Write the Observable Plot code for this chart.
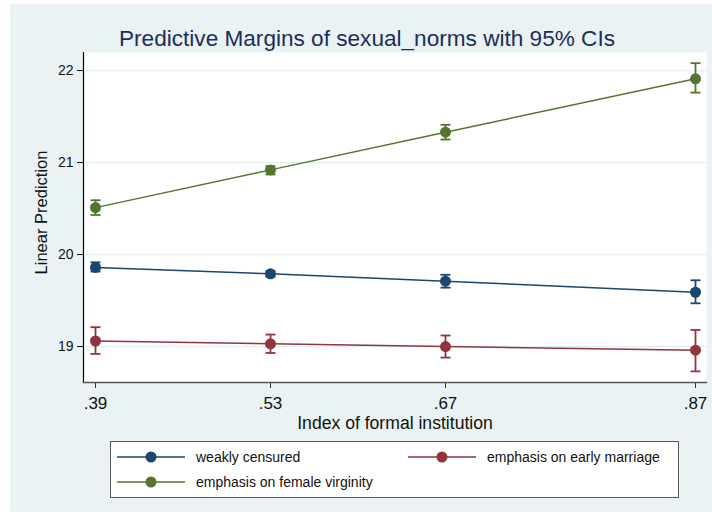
<!DOCTYPE html>
<html>
<head>
<meta charset="utf-8">
<script src="https://cdn.jsdelivr.net/npm/d3@7"></script>
<script src="https://cdn.jsdelivr.net/npm/@observablehq/plot@0.6"></script>
<style>
  html, body { margin: 0; padding: 0; background: #ffffff; }
  #wrap { position: relative; width: 712px; height: 520px; font-family: "Liberation Sans", Arial, sans-serif; }
  #bg { position: absolute; left: 10px; top: 4px; width: 702px; height: 508px; background: #eaf2f3; }
  #chart { position: absolute; left: 0; top: 0; }
  #legend { position: absolute; left: 110px; top: 441px; width: 567px; height: 55px; background: #fff; border: 1px solid #5a5a5a; }
  .item { position: absolute; height: 14px; display: flex; align-items: center; font-size: 14px; color: #111; white-space: nowrap; }
  .item svg { margin-right: 11px; }
</style>
</head>
<body>
<div id="wrap">
  <div id="bg"></div>
  <div id="chart"></div>
  <div id="legend"></div>
</div>
<script>
// ---- data ----
const xValues = [0.39, 0.53, 0.67, 0.87];
const xTickLabels = [".39", ".53", ".67", ".87"];
const yTicks = [19, 20, 21, 22];
const seriesNames = ["weakly censured", "emphasis on early marriage", "emphasis on female virginity"];
const seriesColors = ["#1a476f", "#90353b", "#55752f"];

const weaklyMean = [19.86, 19.79, 19.71, 19.59];
const weaklyLo   = [19.815, 19.76, 19.64, 19.47];
const weaklyHi   = [19.915, 19.82, 19.78, 19.72];

const marriageMean = [19.06, 19.03, 19.00, 18.96];
const marriageLo   = [18.92, 18.93, 18.88, 18.73];
const marriageHi   = [19.21, 19.13, 19.12, 19.18];

const virginityMean = [20.51, 20.92, 21.33, 21.91];
const virginityLo   = [20.43, 20.87, 21.25, 21.76];
const virginityHi   = [20.59, 20.96, 21.41, 22.08];

const titleText = "Predictive Margins of sexual_norms with 95% CIs";
const xLabel = "Index of formal institution";
const yLabel = "Linear Prediction";

// ---- build table ----
const groups = [
  [weaklyMean, weaklyLo, weaklyHi],
  [marriageMean, marriageLo, marriageHi],
  [virginityMean, virginityLo, virginityHi]
];
const data = [];
groups.forEach((g, si) => {
  xValues.forEach((x, i) => {
    data.push({series: seriesNames[si], x, mean: g[0][i], lo: g[1][i], hi: g[2][i]});
  });
});

const cap = {
  draw(context) {
    context.moveTo(-5, 0);
    context.lineTo(5, 0);
  }
};

const font = "'Liberation Sans', Arial, sans-serif";

const chart = Plot.plot({
  width: 712,
  height: 520,
  marginTop: 52,
  marginRight: 6,
  marginBottom: 138,
  marginLeft: 83,
  style: {background: "transparent", fontFamily: font, overflow: "visible"},
  x: {domain: [0.3804, 0.8788]},
  y: {domain: [18.609, 22.196]},
  color: {domain: seriesNames, range: seriesColors},
  marks: [
    Plot.frame({fill: "white", stroke: "none"}),
    Plot.gridY(yTicks, {stroke: "#e3ecee", strokeOpacity: 1, strokeWidth: 1.2}),
    Plot.axisY(yTicks, {tickSize: 6, tickPadding: 4, fontSize: 14, fill: "#111", stroke: "#111", label: null, tickFormat: d => String(d)}),
    Plot.axisX(xValues, {tickSize: 6, tickPadding: 8, fontSize: 17, fill: "#111", stroke: "#333", label: null,
      tickFormat: d => xTickLabels[xValues.indexOf(d)]}),
    Plot.frame({anchor: "left", stroke: "#000", strokeWidth: 1.2}),
    Plot.frame({anchor: "bottom", stroke: "#555", strokeWidth: 1.5}),
    Plot.line(data, {x: "x", y: "mean", z: "series", stroke: "series", strokeWidth: 1.5}),
    Plot.ruleX(data, {x: "x", y1: "lo", y2: "hi", stroke: "series", strokeWidth: 1.8}),
    Plot.dot(data, {x: "x", y: "lo", symbol: cap, r: 5, fill: "none", stroke: "series", strokeWidth: 1.8}),
    Plot.dot(data, {x: "x", y: "hi", symbol: cap, r: 5, fill: "none", stroke: "series", strokeWidth: 1.8}),
    Plot.dot(data, {x: "x", y: "mean", fill: "series", r: 5.5, stroke: "none"}),
    Plot.text([titleText], {frameAnchor: "top", dx: -28, dy: -14, lineAnchor: "middle", textAnchor: "middle", fontSize: 22.6, fill: "#1c2d5c"}),
    Plot.text([xLabel], {frameAnchor: "bottom", dy: 41, lineAnchor: "middle", textAnchor: "middle", fontSize: 17.6, fill: "#111"}),
    Plot.text([yLabel], {frameAnchor: "left", dx: -42, dy: -5, rotate: -90, lineAnchor: "middle", textAnchor: "middle", fontSize: 16.5, fill: "#111"})
  ]
});
document.getElementById("chart").appendChild(chart);

// ---- legend ----
const legend = document.getElementById("legend");
seriesNames.forEach((name, i) => {
  const col = i % 2, row = Math.floor(i / 2);
  const item = document.createElement("div");
  item.className = "item";
  item.style.left = (col === 0 ? 6 : 297) + "px";
  item.style.top = (row === 0 ? 8 : 33) + "px";
  item.innerHTML =
    `<svg width="68" height="14"><line x1="0" x2="68" y1="7" y2="7" stroke="${seriesColors[i]}" stroke-width="1.5"/>` +
    `<circle cx="34" cy="7" r="5.5" fill="${seriesColors[i]}"/></svg><span>${name}</span>`;
  legend.appendChild(item);
});
</script>
</body>
</html>
